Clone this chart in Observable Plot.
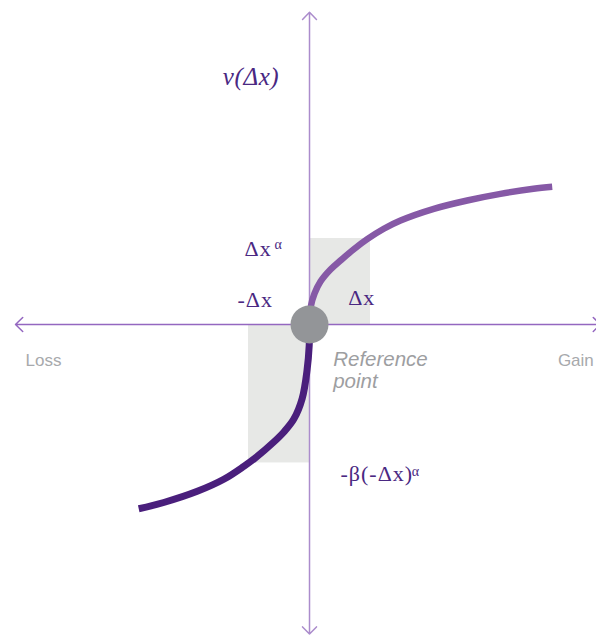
<!DOCTYPE html>
<html>
<head>
<meta charset="utf-8">
<script src="https://cdn.jsdelivr.net/npm/d3@7"></script>
<script src="https://cdn.jsdelivr.net/npm/@observablehq/plot@0.6"></script>
<style>
  html, body { margin: 0; padding: 0; background: #fff; }
  svg { display: block; }
</style>
</head>
<body>
<div id="chart"></div>
<script>
// Value function (prospect theory), Δx = 1 unit on each axis
const gainX = [0, 0.025, 0.082, 0.18, 0.344, 0.508, 0.721, 0.946, 1.218, 1.492, 2.038, 2.585, 3.131, 3.672, 3.979];
const gainV = [0, 0.221, 0.36, 0.5, 0.64, 0.744, 0.872, 0.992, 1.113, 1.209, 1.345, 1.442, 1.519, 1.578, 1.601];
const lossX = [0, -0.005, -0.04, -0.12, -0.257, -0.42, -0.59, -0.885, -1.077, -1.405, -1.84, -2.39, -2.8];
const lossV = [0, -0.244, -0.53, -0.86, -1.1, -1.25, -1.37, -1.55, -1.65, -1.8, -1.94, -2.07, -2.143];

// shaded boxes: Δx by Δx^α (gain) and -Δx by -β(-Δx)^α (loss)
const boxX1 = [0, -1];
const boxX2 = [1, 0];
const boxY1 = [0, -1.61];
const boxY2 = [1, 0];

// axes extents (arrow tips)
const axisEndsX = [-4.82, 4.77];
const axisEndsY = [3.63, -3.6];

const referencePoint = [{x: 0, y: 0}];

// labels
const titleLabel = ["v(Δx)"];
const titleX = [-0.959];
const titleY = [2.779];
const mathLabels = ["Δx", "-Δx", "Δx", "-β(-Δx)"];
const mathLabelX = [-1.066, -1.18, 0.634, 0.508];
const mathLabelY = [0.791, 0.209, 0.221, -1.822];
const supLabels = ["α", "α"];
const supLabelX = [-0.574, 1.676];
const supLabelY = [0.88, -1.756];
const refLabels = ["Reference", "point"];
const refLabelX = [0.388, 0.388];
const refLabelY = [-0.488, -0.733];
const lossLabel = ["Loss"];
const gainLabel = ["Gain"];
const endLabelX = [-4.656, 4.661];
const endLabelY = [-0.477, -0.477];

const gain = gainX.map((x, i) => ({x, v: gainV[i]}));
const loss = lossX.map((x, i) => ({x, v: lossV[i]}));
const boxes = boxX1.map((d, i) => ({x1: d, x2: boxX2[i], y1: boxY1[i], y2: boxY2[i]}));
const hArrows = axisEndsX.map(x => ({x1: 0, y1: 0, x2: x, y2: 0}));
const vArrows = axisEndsY.map(y => ({x1: 0, y1: 0, x2: 0, y2: y}));
const title = titleLabel.map((t, i) => ({t, x: titleX[i], y: titleY[i]}));
const math = mathLabels.map((t, i) => ({t, x: mathLabelX[i], y: mathLabelY[i]}));
const sups = supLabels.map((t, i) => ({t, x: supLabelX[i], y: supLabelY[i]}));
const refs = refLabels.map((t, i) => ({t, x: refLabelX[i], y: refLabelY[i]}));
const lossL = [{t: lossLabel[0], x: endLabelX[0], y: endLabelY[0]}];
const gainL = [{t: gainLabel[0], x: endLabelX[1], y: endLabelY[1]}];

const textPurple = "#4a2882";
const serif = "Liberation Serif, Times New Roman, serif";
const sans = "Liberation Sans, Arial, sans-serif";

const chart = Plot.plot({
  width: 596,
  height: 636,
  margin: 0,
  x: {domain: [-5.066, 4.705], axis: null},
  y: {domain: [-3.628, 3.767], axis: null},
  marks: [
    Plot.rect(boxes, {x1: "x1", x2: "x2", y1: "y1", y2: "y2", fill: "#e7e8e6"}),
    Plot.arrow(hArrows, {x1: "x1", y1: "y1", x2: "x2", y2: "y2", stroke: "#9467c0", strokeWidth: 1.5, headLength: 10, headAngle: 88}),
    Plot.arrow(vArrows, {x1: "x1", y1: "y1", x2: "x2", y2: "y2", stroke: "#ab8ccc", strokeWidth: 1.5, headLength: 10, headAngle: 88}),
    Plot.line(loss, {x: "x", y: "v", stroke: "#4a1f7c", strokeWidth: 7, curve: "catmull-rom", strokeLinecap: "butt"}),
    Plot.line(gain, {x: "x", y: "v", stroke: "#8659a6", strokeWidth: 6.5, curve: "catmull-rom", strokeLinecap: "butt"}),
    Plot.dot(referencePoint, {x: "x", y: "y", r: 19, fill: "#939598"}),
    Plot.text(title, {x: "x", y: "y", text: "t", fill: textPurple, fontSize: 25, fontFamily: serif, fontStyle: "italic", textAnchor: "middle", lineAnchor: "bottom"}),
    Plot.text(math, {x: "x", y: "y", text: "t", fill: textPurple, fontSize: 22, fontFamily: serif, textAnchor: "start", lineAnchor: "bottom"}),
    Plot.text(sups, {x: "x", y: "y", text: "t", fill: textPurple, fontSize: 14, fontFamily: serif, textAnchor: "start", lineAnchor: "bottom"}),
    Plot.text(refs, {x: "x", y: "y", text: "t", fill: "#9d9ea1", fontSize: 20.5, fontFamily: sans, fontStyle: "italic", textAnchor: "start", lineAnchor: "bottom"}),
    Plot.text(lossL, {x: "x", y: "y", text: "t", fill: "#a7a9ac", fontSize: 17, fontFamily: sans, textAnchor: "start", lineAnchor: "bottom"}),
    Plot.text(gainL, {x: "x", y: "y", text: "t", fill: "#a7a9ac", fontSize: 17, fontFamily: sans, textAnchor: "end", lineAnchor: "bottom"})
  ]
});
// slightly wider tracking for the serif math labels
d3.select(chart).selectAll("g").each(function() {
  const fs = this.getAttribute("font-size");
  if (fs === "22") this.setAttribute("letter-spacing", "1");
  if (fs === "25") this.setAttribute("letter-spacing", "0.6");
});
document.getElementById("chart").append(chart);
</script>
</body>
</html>
